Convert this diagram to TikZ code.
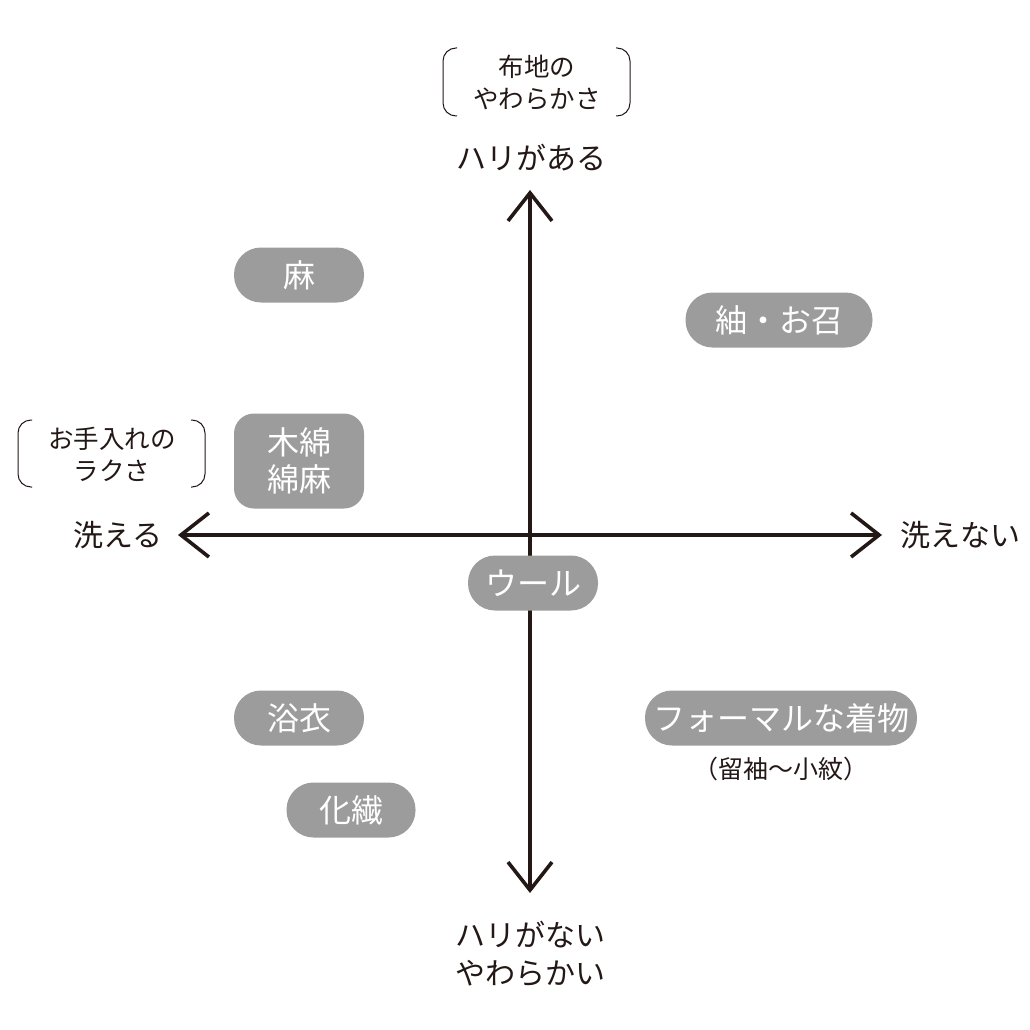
\documentclass[tikz,border=0pt]{standalone}
\usepackage{fontspec}
\setmainfont{Noto Sans CJK JP}
\usepackage{tikz}
\usetikzlibrary{arrows.meta,positioning}
\definecolor{inkdark}{HTML}{231815}
\definecolor{pillgray}{HTML}{9C9C9C}

\begin{document}
\begin{tikzpicture}[
  x=1pt,y=-1pt,
  font=\fontsize{30}{38}\selectfont,
  text=inkdark,
  pill/.style={fill=pillgray,text=white,rounded corners=27pt,minimum width=130pt,minimum height=55pt,inner sep=0pt,align=center,font=\fontsize{32}{37}\selectfont},
  note/.style={align=center,font=\fontsize{25.5}{32}\selectfont},
  axis/.style={draw=inkdark,line width=3.6pt,-{Straight Barb[length=28pt,width=44pt]}},
  brace/.style={draw=inkdark,line width=1pt,rounded corners=13pt}
]
\useasboundingbox (0,0) rectangle (1030,1030);
% axes
\coordinate (o) at (530,535);
\coordinate (up) at (530,190);
\coordinate (down) at (530,893);
\coordinate (lt) at (178,535);
\coordinate (rt) at (882,535);
\draw[axis] (o) -- (up);
\draw[axis] (o) -- (down);
\draw[axis] (o) -- (lt);
\draw[axis] (o) -- (rt);
% axis labels
\node (hard) at (531,158) {ハリがある};
\node[align=center] (soft) at (530,954) {ハリがない\\やわらかい};
\node (wash) at (118,535) {洗える};
\node (nowash) at (960,535) {洗えない};
% bracketed notes
\node[note] (fabric) at (537,83) {布地の\\やわらかさ};
\node[note] (care) at (112,454) {お手入れの\\ラクさ};
\draw[brace] (457,48) -- (443,48) -- (443,116) -- (457,116);
\draw[brace] (616,48) -- (630,48) -- (630,116) -- (616,116);
\draw[brace] (32,420) -- (18,420) -- (18,487) -- (32,487);
\draw[brace] (191,420) -- (205,420) -- (205,487) -- (191,487);
% materials
\node[pill] (asa) at (299,275) {麻};
\node[pill,minimum width=187pt] (tsumugi) at (779,320) {紬・お召};
\node[pill,minimum height=95pt,rounded corners=20pt] (momen) at (299,461) {木綿\\綿麻};
\node[pill] (wool) at (533,583) {ウール};
\node[pill] (yukata) at (299,718) {浴衣};
\node[pill,minimum width=129pt] (kasen) at (351,810) {化繊};
\node[pill,minimum width=272pt] (formal) at (781,718) {フォーマルな着物};
\node[below=11pt of formal,font=\fontsize{25}{28}\selectfont,inner sep=0pt] (formalsub) {（留袖〜小紋）};
\end{tikzpicture}
\end{document}
